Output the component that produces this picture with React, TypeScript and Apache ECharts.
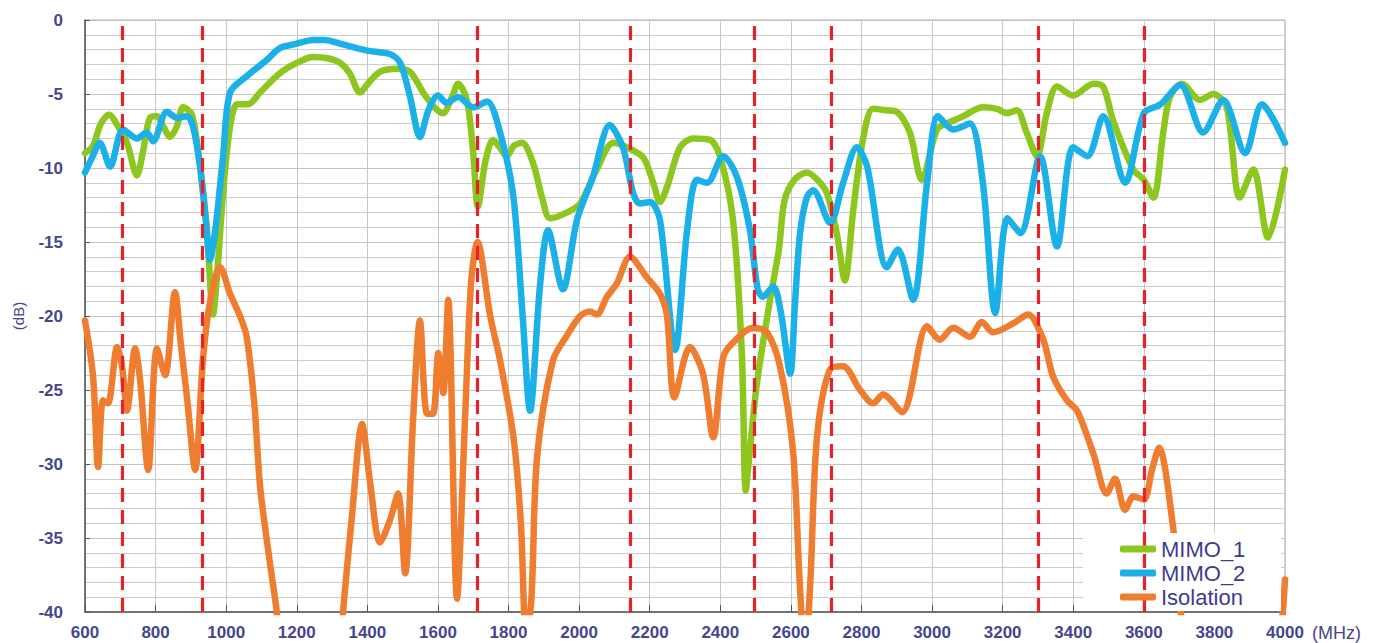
import React, { useEffect, useRef } from "react";
import * as echarts from "echarts";

// [MHz, dB]
const mimo1: [number, number][] = [
  [600, -9.0], [623, -8.5], [645, -7.0], [668, -6.4], [694, -7.2], [719, -8.3], [747, -10.5], [765, -8.8],
  [784, -6.6], [804, -6.5], [822, -7.2], [841, -7.9], [860, -7.2], [878, -5.9], [903, -6.4], [926, -9.9],
  [945, -14.0], [963, -19.9], [975, -17.0], [991, -11.7], [1011, -7.2], [1031, -5.7], [1062, -5.7], [1096, -4.9],
  [1152, -3.6], [1200, -2.9], [1246, -2.5], [1290, -2.6], [1323, -2.9], [1350, -3.6], [1379, -4.9], [1405, -4.2],
  [1436, -3.5], [1484, -3.3], [1521, -3.5], [1558, -4.9], [1590, -5.9], [1614, -6.3], [1640, -5.2], [1657, -4.3],
  [1682, -5.4], [1700, -9.0], [1713, -12.6], [1735, -9.5], [1756, -8.1], [1775, -8.6], [1795, -9.2], [1815, -8.5],
  [1838, -8.3], [1870, -9.7], [1895, -12.0], [1918, -13.4], [1966, -13.0], [2003, -12.4], [2050, -10.1], [2097, -8.3],
  [2135, -8.6], [2182, -9.3], [2210, -11.0], [2229, -12.3], [2249, -11.3], [2286, -8.6], [2323, -8.0], [2371, -8.1],
  [2399, -9.2], [2436, -13.5], [2461, -22.5], [2472, -31.8], [2482, -29.5], [2504, -24.5], [2541, -18.9], [2566, -15.5],
  [2582, -12.2], [2610, -10.8], [2645, -10.3], [2675, -10.8], [2702, -11.7], [2730, -14.4], [2753, -17.6], [2777, -12.8],
  [2804, -8.1], [2833, -6.0], [2870, -6.1], [2900, -6.2], [2937, -7.6], [2971, -10.8], [3014, -7.4], [3050, -6.9],
  [3088, -6.5], [3144, -5.9], [3184, -6.0], [3212, -6.3], [3240, -6.1], [3268, -7.6], [3297, -9.2], [3325, -6.3],
  [3354, -4.5], [3400, -5.1], [3457, -4.3], [3485, -4.5], [3513, -6.8], [3570, -10.1], [3600, -10.8], [3627, -12.0],
  [3655, -7.6], [3674, -5.2], [3708, -4.3], [3759, -5.4], [3797, -5.0], [3835, -5.9], [3872, -12.0], [3910, -10.1],
  [3952, -14.7], [4000, -10.1],
];

const mimo2: [number, number][] = [
  [600, -10.3], [620, -9.3], [642, -8.3], [671, -9.9], [708, -7.4], [747, -8.0], [775, -7.6], [793, -8.2],
  [832, -6.2], [860, -6.6], [889, -6.5], [906, -7.2], [926, -9.9], [942, -13.5], [954, -16.2], [970, -14.0],
  [992, -9.0], [1011, -4.9], [1058, -3.8], [1115, -2.7], [1152, -1.9], [1200, -1.6], [1246, -1.35], [1280, -1.35],
  [1323, -1.6], [1370, -1.9], [1408, -2.1], [1464, -2.3], [1493, -2.9], [1521, -5.2], [1549, -7.9], [1573, -6.1],
  [1600, -5.1], [1625, -5.6], [1657, -5.2], [1700, -5.9], [1739, -5.5], [1776, -7.6], [1814, -12.0], [1840, -20.0],
  [1861, -26.4], [1889, -18.0], [1912, -14.2], [1954, -18.2], [1994, -13.5], [2039, -10.6], [2087, -7.1], [2124, -8.6],
  [2153, -11.7], [2172, -12.4], [2201, -12.3], [2229, -13.5], [2272, -22.3], [2306, -14.2], [2334, -10.8], [2363, -11.0],
  [2408, -9.2], [2447, -10.6], [2484, -14.2], [2506, -18.2], [2521, -18.7], [2550, -18.0], [2572, -19.8], [2598, -23.9],
  [2612, -19.0], [2626, -14.4], [2645, -12.0], [2663, -11.5], [2711, -13.7], [2748, -11.0], [2787, -8.6], [2816, -9.9],
  [2872, -16.7], [2903, -15.5], [2946, -18.9], [2986, -11.0], [3017, -6.5], [3060, -7.4], [3107, -7.0], [3144, -11.0],
  [3179, -19.8], [3214, -13.4], [3250, -14.4], [3306, -9.2], [3354, -15.3], [3400, -8.6], [3440, -9.2], [3485, -6.5],
  [3547, -11.0], [3600, -6.3], [3647, -5.7], [3703, -4.4], [3768, -7.6], [3825, -5.4], [3887, -9.0], [3935, -5.7],
  [4000, -8.3],
];

const isolation: [number, number][] = [
  [600, -20.3], [623, -24.1], [637, -30.2], [651, -25.7], [665, -25.9], [691, -22.1], [705, -23.4], [719, -26.4],
  [742, -22.2], [756, -24.3], [779, -30.4], [804, -22.2], [827, -24.0], [855, -18.4], [872, -22.0], [889, -25.5],
  [912, -30.4], [934, -23.0], [954, -19.1], [983, -16.7], [1011, -18.5], [1039, -20.0], [1058, -21.4], [1080, -26.0],
  [1096, -31.5], [1124, -36.7], [1143, -39.9], [1155, -43.0], [1320, -43.0], [1331, -40.0], [1356, -33.6], [1385, -27.3],
  [1408, -31.3], [1436, -35.3], [1464, -33.8], [1487, -32.0], [1507, -37.4], [1530, -26.8], [1549, -20.3], [1569, -26.6],
  [1586, -26.6], [1601, -22.5], [1615, -25.2], [1629, -18.9], [1654, -39.1], [1677, -26.8], [1694, -17.7], [1712, -15.0],
  [1748, -20.0], [1776, -23.0], [1814, -28.2], [1835, -34.0], [1850, -42.0], [1865, -39.0], [1881, -29.5], [1926, -23.0],
  [1966, -21.3], [2003, -20.0], [2031, -19.7], [2050, -19.9], [2079, -18.7], [2107, -17.8], [2144, -16.0], [2192, -17.4],
  [2229, -18.5], [2249, -20.0], [2270, -25.5], [2314, -22.1], [2351, -23.9], [2380, -28.2], [2408, -22.8], [2436, -21.8],
  [2493, -20.8], [2532, -21.1], [2569, -23.4], [2606, -29.1], [2625, -38.0], [2640, -43.0], [2655, -38.0], [2674, -28.2],
  [2711, -23.6], [2748, -23.4], [2796, -25.0], [2833, -25.9], [2861, -25.3], [2915, -26.5], [2986, -20.7], [3022, -21.6],
  [3060, -20.8], [3107, -21.4], [3141, -20.4], [3173, -21.1], [3230, -20.5], [3272, -19.9], [3315, -21.6], [3343, -24.1],
  [3382, -25.7], [3411, -26.4], [3457, -29.3], [3495, -32.0], [3518, -31.0], [3547, -33.1], [3570, -32.2], [3600, -32.4],
  [3623, -30.4], [3643, -28.9], [3683, -34.3], [3710, -41.0], [3760, -46.0], [3960, -46.0], [3990, -41.0], [4000, -37.8],
];

const bandEdges = [705, 932, 1712, 2145, 2495, 2715, 3300, 3600];
const seriesNames = ["MIMO_1", "MIMO_2", "Isolation"];
const seriesColors = ["#8cc61e", "#1cb0e8", "#ee7d30"];
const seriesData = [mimo1, mimo2, isolation];

const FONT = "'Liberation Sans', Arial, sans-serif";
const LABEL_COLOR = "#46468e";

export default function App() {
  const ref = useRef<HTMLDivElement>(null);
  useEffect(() => {
    const chart = echarts.init(ref.current!, null, { renderer: "svg" });
    chart.setOption({
      animation: false,
      backgroundColor: "#ffffff",
      grid: {
        left: 85, right: 97, top: 20, bottom: 31,
        show: true, borderColor: "#a6a6a6", borderWidth: 1,
      },
      xAxis: {
        type: "value", min: 600, max: 4000, interval: 200,
        axisLine: { show: true, onZero: false, lineStyle: { color: "#555555", width: 1.5 } },
        axisTick: { show: true, inside: true, length: 7, lineStyle: { color: "#555555" } },
        axisLabel: {
          color: LABEL_COLOR, fontSize: 17, fontWeight: "bold", fontFamily: FONT, margin: 12,
          formatter: (v: number) => String(v),
        },
        splitLine: { show: true, lineStyle: { color: "#c8c8c8", width: 1 } },
      },
      yAxis: {
        type: "value", min: -40, max: 0, interval: 5,
        axisLine: { show: true, lineStyle: { color: "#555555", width: 1.5 } },
        axisTick: { show: true, inside: true, length: 5, lineStyle: { color: "#555555" } },
        axisLabel: {
          color: LABEL_COLOR, fontSize: 17, fontWeight: "bold", fontFamily: FONT, margin: 22,
          formatter: (v: number) => String(v),
        },
        splitLine: { show: true, lineStyle: { color: "#c4c4c4", width: 1 } },
        minorTick: { show: false, splitNumber: 5 },
        minorSplitLine: { show: true, lineStyle: { color: "#cccccc", width: 1 } },
      },
      legend: {
        orient: "vertical", left: 1115, top: 533, itemWidth: 36, itemHeight: 7, itemGap: 2,
        icon: "roundRect", z: 6,
        textStyle: { fontSize: 22, color: "#3c3c8e", fontFamily: FONT },
        data: seriesNames,
      },
      graphic: [
        { type: "rect", z: 5, shape: { x: 1083, y: 533, width: 198, height: 78 }, style: { fill: "#ffffff" } },
        { type: "text", x: 1312, y: 633, style: { text: "(MHz)", fill: LABEL_COLOR, fontSize: 18, fontFamily: FONT, verticalAlign: "middle" } },
        { type: "text", x: 18, y: 316, rotation: Math.PI / 2, style: { text: "(dB)", fill: LABEL_COLOR, fontSize: 15, fontFamily: FONT, align: "center", verticalAlign: "middle" } },
      ],
      series: seriesNames.map((name, i) => ({
        name,
        type: "line",
        data: seriesData[i],
        showSymbol: false,
        smooth: 0.3,
        clip: true,
        color: seriesColors[i],
        lineStyle: { color: seriesColors[i], width: 6.5, cap: "round", join: "round" },
        z: 2 + i * 0.1,
        ...(i === 2
          ? {
              markLine: {
                silent: true,
                symbol: ["none", "none"],
                label: { show: false },
                lineStyle: { color: "#e62129", width: 3.2, type: [14, 8] },
                data: bandEdges.map((v) => ({ xAxis: v })),
              },
            }
          : {}),
      })),
    });
    return () => chart.dispose();
  }, []);
  return (
    <div
      ref={ref}
      style={{ position: "fixed", left: 0, top: 0, width: 1382, height: 643, background: "#fff" }}
    />
  );
}
